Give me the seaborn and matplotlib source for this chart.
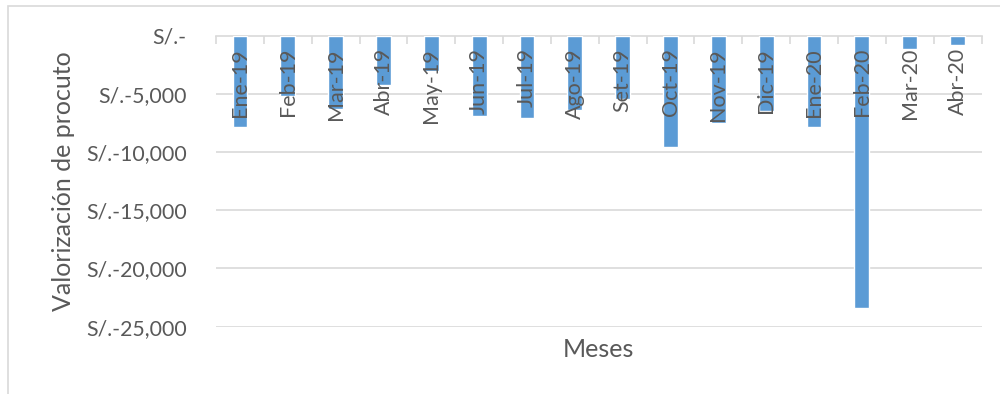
import matplotlib
matplotlib.use("Agg")
import matplotlib.pyplot as plt
from matplotlib.patches import Rectangle
from matplotlib.ticker import FuncFormatter, FixedLocator
import seaborn as sns
import pandas as pd

# Monthly product valuation (soles)
meses = ["Ene-19", "Feb-19", "Mar-19", "Abr-19", "May-19", "Jun-19", "Jul-19", "Ago-19",
         "Set-19", "Oct-19", "Nov-19", "Dic-19", "Ene-20", "Feb-20", "Mar-20", "Abr-20"]
valores = [-7830, -5230, -6290, -4220, -3050, -6920, -7120, -6400,
           -5460, -9550, -7550, -6510, -7830, -23400, -1190, -820]
y_ticks = [0, -5000, -10000, -15000, -20000, -25000]

df = pd.DataFrame({"Mes": meses, "Valor": valores})

sns.set_theme(style="white")
plt.rcParams["font.family"] = ["Lato", "DejaVu Sans"]

text_col = "#595959"
grid_col = "#d9d9d9"
bar_col = "#5b9bd5"

fig = plt.figure(figsize=(10, 3.94), dpi=100)
ax = fig.add_axes([0.216, 1 - 326.7 / 394, 0.9815 - 0.216, (326.7 - 35.5) / 394])

sns.barplot(data=df, x="Mes", y="Valor", color=bar_col, width=0.31,
            saturation=1, ax=ax, zorder=1)
# month labels are drawn over the bars
ax.set_axisbelow(False)

ax.set_ylim(-25000, 0)
ax.set_xlim(-0.5, len(meses) - 0.5)

# horizontal gridlines behind the bars
for v in y_ticks[1:]:
    ax.axhline(v, color=grid_col, lw=1.2, zorder=0)

ax.yaxis.set_major_locator(FixedLocator(y_ticks))
ax.yaxis.set_major_formatter(FuncFormatter(
    lambda v, p: "S/.-" if v == 0 else f"S/.-{abs(int(v)):,}"))
ax.tick_params(axis="y", length=0, pad=21, labelsize=15.3, labelcolor=text_col)

# category axis sits at zero, along the top edge
for side in ["left", "right", "bottom"]:
    ax.spines[side].set_visible(False)
ax.spines["top"].set_color(grid_col)
ax.spines["top"].set_linewidth(1.2)
ax.spines["top"].set_zorder(0.5)
ax.xaxis.tick_top()
ax.xaxis.set_label_position("bottom")
ax.set_xticks(range(len(meses)))
ax.set_xticklabels(meses)
ax.set_xticks([i - 0.5 for i in range(len(meses) + 1)], minor=True)
ax.tick_params(axis="x", which="major", length=0, pad=-9, labelsize=15.5,
               labelcolor=text_col, labelrotation=90)
ax.tick_params(axis="x", which="minor", direction="in", length=6, width=1.2,
               color=grid_col, top=True, bottom=False)
for lbl in ax.get_xticklabels():
    lbl.set_verticalalignment("top")

ax.set_xlabel("Meses", fontsize=18, color=text_col, labelpad=8)
ax.set_ylabel("Valorización de procuto", fontsize=18, color=text_col, labelpad=8)

# chart frame
fig.patches.append(Rectangle((8 / 1000, -0.2), 1.2, 1 - 6 / 394 + 0.2,
                             transform=fig.transFigure, fill=False,
                             edgecolor=grid_col, lw=1.2))

fig.savefig("out.png", dpi=100)
